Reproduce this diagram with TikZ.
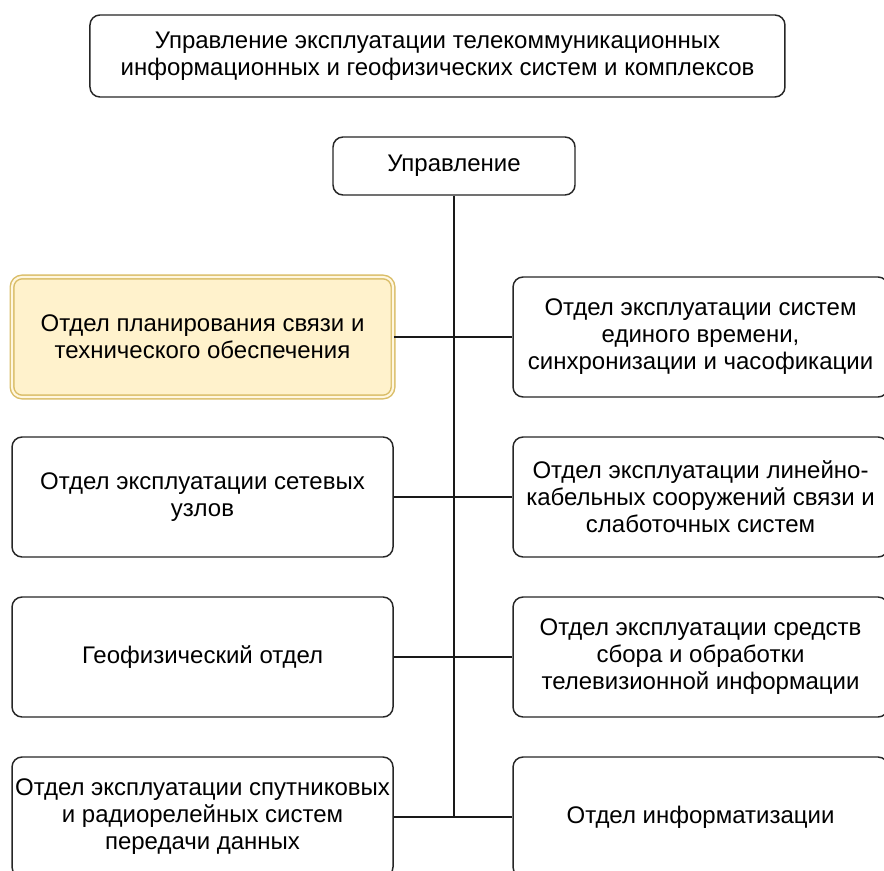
\documentclass[tikz,border=0pt]{standalone}
\usepackage{fontspec}
\setmainfont{Liberation Sans}
\usepackage{tikz}
\usetikzlibrary{positioning}
\definecolor{plafill}{HTML}{FFF2CC}
\definecolor{pladraw}{HTML}{D6B656}
\tikzstyle{unit} = [rectangle, rounded corners=7.5pt, line width=1.1pt, draw=black!85, fill=white, align=center, font=\fontsize{18}{20.25}\selectfont, inner sep=1pt]
\tikzstyle{left unit} = [unit, minimum width=285.75pt, minimum height=90pt]
\tikzstyle{right unit} = [unit, minimum width=281.25pt, minimum height=90pt]
\tikzstyle{plan} = [left unit, fill=plafill, draw=pladraw!90, line width=1.1pt, double=plafill!60!white, double distance=1.6pt]
\tikzstyle{link} = [line width=1.1pt, draw=black!90]

\begin{document}
\begin{tikzpicture}[node distance=120pt]
\useasboundingbox (0,0) rectangle (663pt,-652.5pt);
\clip (0,0) rectangle (663pt,-652.5pt);

\node (uprav) [unit, minimum width=521.25pt, minimum height=61.5pt] at (328.1pt,-42pt) {Управление эксплуатации телекоммуникационных\\информационных и геофизических систем и комплексов};
\node (head) [unit, minimum width=181.5pt, minimum height=43.5pt] at (340.5pt,-124.5pt) {Управление};

% left column
\node (plan) [plan] at (151.9pt,-252.75pt) {Отдел планирования связи и\\технического обеспечения};
\node (uzly) [left unit, below of=plan] {Отдел эксплуатации сетевых\\узлов};
\node (geof) [left unit, below of=uzly] {Геофизический отдел};
\node (sput) [left unit, below of=geof] {Отдел эксплуатации спутниковых\\и радиорелейных систем\\передачи данных};

% right column
\node (vrem) [right unit] at (525.4pt,-252.75pt) {Отдел эксплуатации систем\\единого времени,\\синхронизации и часофикации};
\node (kabel) [right unit, below of=vrem] {Отдел эксплуатации линейно-\\кабельных сооружений связи и\\слаботочных систем};
\node (tele) [right unit, below of=kabel] {Отдел эксплуатации средств\\сбора и обработки\\телевизионной информации};
\node (info) [right unit, below of=tele] {Отдел информатизации};

\draw [link] (head.south) -- (head.south |- sput.east);
\draw [link] (plan.east) -- (vrem.west);
\draw [link] (uzly.east) -- (kabel.west);
\draw [link] (geof.east) -- (tele.west);
\draw [link] (sput.east) -- (info.west);

\end{tikzpicture}
\end{document}
